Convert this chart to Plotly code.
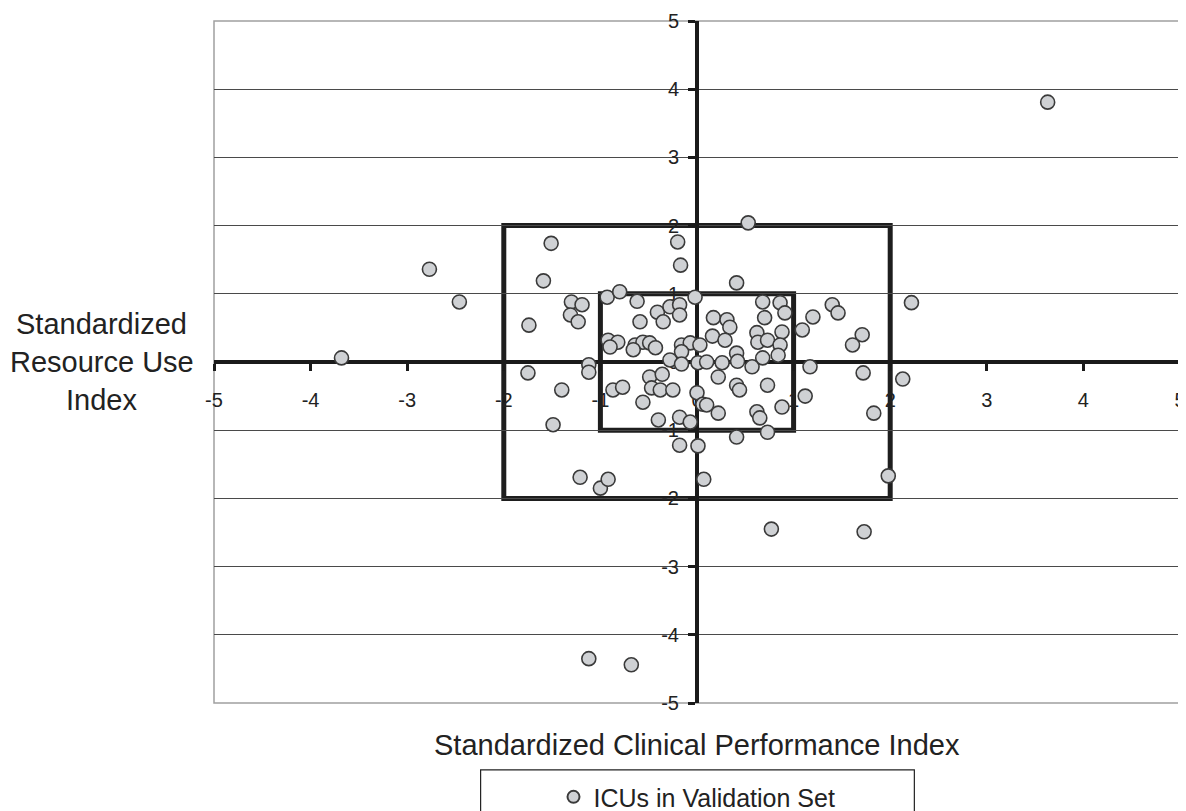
import plotly.graph_objects as go

# Standardized Clinical Performance Index (x) and Standardized Resource Use Index (y)
clinical_index = [
    3.63, -3.68, -2.77, -2.46, -1.51, -1.59, -1.30, -1.19, -1.31, -1.23,
    -1.74, -1.12, -1.12, -1.75, -1.40, -1.49, -1.21, -1.00, -0.92, -1.12,
    -0.68, -0.93, -0.80, -0.62, -0.41, -0.28, -0.18, -0.18, -0.35, -0.02,
    -0.59, -0.92, -0.82, -0.90, -0.64, -0.56, -0.49, -0.43, -0.66, -0.16,
    -0.07, 0.03, -0.16, -0.28, -0.16, -0.87, -0.77, -0.56, -0.49, -0.36,
    -0.47, -0.38, -0.25, 0.01, 0.00, 0.06, -0.40, -0.18, -0.07, -0.18,
    0.01, -0.20, -0.17, 0.07, 0.53, 0.41, 0.68, 0.86, 0.91, 0.70,
    0.17, 0.31, 0.34, 0.62, 0.88, 1.09, 1.20, 0.16, 0.29, 0.63,
    0.73, 0.86, 0.10, 0.26, 0.41, 0.42, 0.68, 0.84, 0.57, 1.17,
    0.22, 0.41, 0.44, 0.73, 0.10, 0.22, 0.62, 0.65, 0.88, 1.12,
    0.41, 0.73, 0.77, 1.40, 1.46, 1.71, 1.61, 1.72, 2.13, 1.83,
    2.22, 1.73, 1.98,
]
resource_index = [
    3.81, 0.06, 1.36, 0.88, 1.74, 1.19, 0.88, 0.84, 0.69, 0.59,
    0.54, -0.04, -0.15, -0.16, -0.41, -0.92, -1.69, -1.85, -1.72, -4.35,
    -4.44, 0.95, 1.03, 0.89, 0.73, 0.81, 0.84, 0.69, 0.59, 0.95,
    0.59, 0.32, 0.29, 0.22, 0.25, 0.29, 0.28, 0.21, 0.18, 0.25,
    0.28, 0.25, 0.15, 0.03, -0.03, -0.41, -0.37, -0.59, -0.22, -0.18,
    -0.38, -0.41, -0.41, -0.01, -0.45, -0.62, -0.85, -0.81, -0.88, -1.22,
    -1.23, 1.76, 1.42, -1.72, 2.04, 1.16, 0.88, 0.87, 0.72, 0.65,
    0.65, 0.62, 0.51, 0.43, 0.44, 0.47, 0.66, 0.38, 0.32, 0.29,
    0.32, 0.25, 0.00, -0.01, 0.13, 0.01, 0.06, 0.10, -0.07, -0.07,
    -0.22, -0.34, -0.41, -0.34, -0.63, -0.75, -0.73, -0.82, -0.66, -0.50,
    -1.10, -1.03, -2.45, 0.84, 0.72, 0.40, 0.25, -0.16, -0.25, -0.75,
    0.87, -2.49, -1.67,
]

tick_values = [-5, -4, -3, -2, -1, 0, 1, 2, 3, 4, 5]
tick_labels = ["-5", "-4", "-3", "-2", "-1", "0", "1", "2", "3", "4", "5"]
box_half_widths = [1, 2]  # inner and outer reference boxes (±1 SD, ±2 SD)
x_title = "Standardized Clinical Performance Index"
y_title_lines = ["Standardized", "Resource Use", "Index"]
series_name = "ICUs in Validation Set"

FONT = "Liberation Sans, Arial, sans-serif"
TXT = "#222222"

fig = go.Figure()
fig.add_trace(go.Scatter(
    x=clinical_index, y=resource_index, mode="markers", name=series_name,
    marker=dict(size=14, color="#cfd1d4", line=dict(color="#3a3a3a", width=1.6)),
    showlegend=True, cliponaxis=False,
))

# reference boxes
for h in box_half_widths:
    fig.add_shape(type="rect", xref="x", yref="y", x0=-h, x1=h, y0=-h, y1=h,
                  line=dict(color="#1e1e1e", width=5), layer="below")

# plot area border
fig.add_shape(type="rect", xref="paper", yref="paper", x0=0, x1=1, y0=0, y1=1,
              line=dict(color="#a0a0a0", width=1.5), layer="below")

# legend frame
fig.add_shape(type="rect", xref="paper", yref="paper", x0=0.276, x1=0.725,
              y0=-0.20, y1=-0.098, line=dict(color="#222", width=1.2))

axis_common = dict(
    range=[-5, 5], anchor="free", position=0.5, showline=True,
    linecolor="#1a1a1a", linewidth=4, zeroline=False, automargin=False,
    tickvals=tick_values, ticktext=tick_labels, ticks="outside",
    ticklen=7, tickwidth=3, tickcolor="#1a1a1a",
    tickfont=dict(size=20, color=TXT, family=FONT), layer="below traces",
)
fig.update_xaxes(**axis_common, showgrid=False, ticklabelstandoff=12)
fig.update_yaxes(**axis_common, showgrid=True, gridcolor="#4a4a4a", gridwidth=1.3,
                 ticklabelstandoff=5)

fig.add_annotation(text=x_title, xref="paper", yref="paper", x=0.5, y=-0.0616,
                   showarrow=False, xanchor="center", yanchor="middle",
                   font=dict(size=29, color=TXT, family=FONT))
for i, line in enumerate(y_title_lines):
    fig.add_annotation(text=line, xref="paper", yref="paper", x=-0.116,
                       y=0.555 - i * 0.055, showarrow=False, xanchor="center",
                       yanchor="middle", font=dict(size=29, color=TXT, family=FONT))

# the page body has an 8px default margin, so the figure is sized/offset to fit
fig.update_layout(
    width=1178, height=803,
    margin=dict(l=206, r=6, t=13, b=108, autoexpand=False),
    paper_bgcolor="white", plot_bgcolor="white",
    legend=dict(x=0.5, xanchor="center", y=-0.138, yanchor="middle",
                orientation="h", bgcolor="rgba(0,0,0,0)",
                font=dict(size=25, color=TXT, family=FONT), itemsizing="constant"),
)

fig.write_html("out.html")
